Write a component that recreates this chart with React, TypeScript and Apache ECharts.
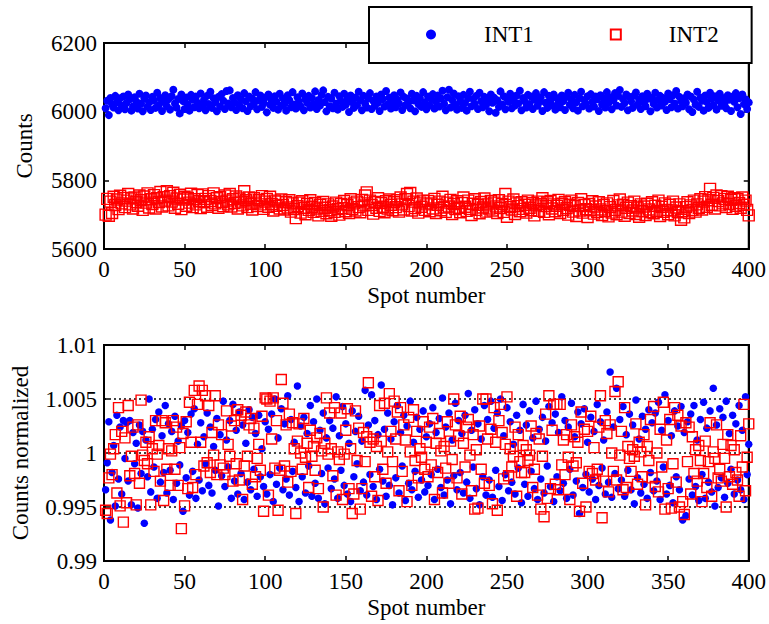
import React, { useEffect, useRef } from "react";
import * as echarts from "echarts";

// Top panel: raw counts per spot (spot number = index + 1)
const INT1 = [
  6010, 6032, 5990, 6040, 6021, 6012, 6046, 6028, 6004, 6039, 6018, 6044, 6007, 6025, 6050, 6036, 6003, 6015, 6042, 6030,
  6009, 6052, 6023, 6001, 6038, 6047, 6014, 6027, 6005, 6043, 6033, 6011, 6055, 6019, 6040, 6002, 6029, 6048, 6016, 6036,
  6006, 6045, 6064, 6024, 6012, 6037, 5995, 6050, 6031, 6008, 6041, 6020, 6003, 6049, 6035, 6013, 6044, 6026, 6010, 6053,
  6017, 6034, 6004, 6046, 6022, 6058, 6011, 6039, 6028, 6001, 6043, 6015, 6051, 6032, 6008, 6060, 6024, 6062, 6013, 6040,
  6027, 6005, 6048, 6019, 6036, 6010, 6054, 6030, 6002, 6044, 6016, 6038, 6023, 6057, 6007, 6033, 6047, 6014, 6025, 6041,
  5998, 6050, 6020, 6035, 6011, 6045, 6029, 6006, 6052, 6017, 6039, 6024, 6003, 6048, 6033, 6013, 6057, 6021, 6009, 6042,
  6030, 6015, 6053, 6004, 6037, 6026, 6046, 6012, 6040, 6022, 6059, 6008, 6034, 6018, 6049, 6062, 6028, 6001, 6043, 6016,
  6038, 6010, 6055, 6024, 6006, 6045, 6031, 6014, 6052, 6020, 6036, 5999, 6047, 6027, 6011, 6041, 6019, 6058, 6034, 6004,
  6046, 6023, 6012, 6039, 6054, 6008, 6032, 6017, 6044, 6026, 6002, 6050, 6037, 6015, 6060, 6021, 6041, 6009, 6030, 6048,
  6013, 6035, 6024, 6056, 6005, 6043, 6019, 6038, 6028, 6010, 6052, 6033, 6001, 6046, 6022, 6040, 6014, 6057, 6027, 6007,
  6044, 6018, 6036, 6051, 6009, 6029, 6047, 6015, 6039, 6061, 6023, 6004, 6042, 6064, 6012, 6034, 6053, 6020, 6006, 6045,
  6031, 6011, 6049, 6025, 6003, 6040, 6058, 6016, 6037, 6022, 6046, 6008, 6055, 6030, 6013, 6043, 6019, 6035, 6001, 6050,
  6026, 6041, 5997, 6033, 6014, 6059, 6021, 6045, 6007, 6038, 6029, 6052, 6010, 6036, 6018, 6047, 6024, 6061, 6004, 6040,
  6030, 6012, 6049, 6022, 6044, 6008, 6035, 6054, 6017, 6028, 6042, 6002, 6057, 6026, 6011, 6046, 6033, 6019, 6050, 6006,
  6039, 6024, 6013, 6047, 6031, 6005, 6043, 6055, 6020, 6036, 6010, 6049, 6027, 6003, 6040, 6058, 6016, 6034, 6023, 6045,
  6009, 6051, 6029, 6015, 6044, 6036, 6002, 6048, 6021, 6039, 6012, 6057, 6026, 6042, 6007, 6033, 6054, 6018, 6046, 6063,
  6014, 6037, 6025, 6050, 6004, 6043, 6030, 6011, 6047, 6056, 6020, 6035, 6008, 6045, 6027, 6016, 6052, 6038, 6001, 6041,
  6023, 6055, 6012, 6034, 6046, 6018, 6040, 6029, 6005, 6053, 6037, 6013, 6048, 6024, 6060, 6009, 6043, 6031, 6016, 6039,
  6026, 6050, 6007, 6044, 5999, 6035, 6021, 6058, 6014, 6041, 6032, 6003, 6047, 6028, 6011, 6055, 6038, 6019, 6045, 6006,
  6033, 6052, 6017, 6040, 6024, 6010, 6048, 6035, 6002, 6044, 6029, 6054, 6013, 6039, 5993, 6050, 6022, 6036, 6008, 6027,
];

const INT2 = [
  5700, 5746, 5697, 5738, 5705, 5752, 5728, 5744, 5716, 5755, 5733, 5749, 5722, 5741, 5760, 5730, 5747, 5718, 5750, 5736,
  5726, 5756, 5742, 5714, 5753, 5735, 5762, 5721, 5745, 5731, 5757, 5718, 5748, 5737, 5766, 5724, 5751, 5741, 5768, 5727,
  5754, 5738, 5764, 5720, 5747, 5732, 5758, 5716, 5744, 5752, 5726, 5749, 5735, 5761, 5722, 5745, 5730, 5757, 5739, 5719,
  5759, 5736, 5746, 5723, 5754, 5740, 5728, 5762, 5733, 5748, 5720, 5751, 5737, 5725, 5756, 5741, 5730, 5760, 5724, 5745,
  5734, 5753, 5718, 5747, 5738, 5727, 5768, 5742, 5722, 5750, 5732, 5715, 5748, 5735, 5725, 5742, 5730, 5754, 5717, 5738,
  5746, 5723, 5752, 5731, 5712, 5741, 5726, 5738, 5718, 5744, 5728, 5715, 5736, 5721, 5742, 5709, 5733, 5716, 5690, 5725,
  5735, 5706, 5739, 5720, 5701, 5731, 5714, 5742, 5723, 5708, 5734, 5718, 5698, 5729, 5711, 5737, 5720, 5704, 5730, 5713,
  5697, 5724, 5708, 5735, 5716, 5700, 5731, 5719, 5740, 5710, 5728, 5705, 5745, 5717, 5733, 5712, 5738, 5722, 5707, 5743,
  5727, 5756, 5765, 5714, 5741, 5728, 5703, 5737, 5720, 5748, 5711, 5734, 5723, 5707, 5739, 5718, 5744, 5729, 5713, 5736,
  5722, 5742, 5709, 5750, 5730, 5715, 5745, 5760, 5725, 5763, 5712, 5738, 5719, 5747, 5706, 5735, 5723, 5741, 5714, 5730,
  5740, 5710, 5733, 5718, 5746, 5705, 5729, 5738, 5713, 5752, 5721, 5708, 5735, 5724, 5743, 5702, 5731, 5716, 5739, 5720,
  5707, 5734, 5750, 5723, 5711, 5741, 5717, 5699, 5732, 5745, 5714, 5729, 5704, 5737, 5721, 5747, 5709, 5730, 5718, 5740,
  5712, 5735, 5724, 5705, 5742, 5719, 5731, 5708, 5760, 5694, 5738, 5722, 5715, 5744, 5702, 5733, 5725, 5710, 5736, 5717,
  5729, 5706, 5741, 5720, 5713, 5734, 5698, 5727, 5738, 5711, 5731, 5748, 5708, 5725, 5736, 5701, 5740, 5718, 5730, 5710,
  5726, 5743, 5705, 5732, 5714, 5737, 5719, 5700, 5729, 5741, 5709, 5725, 5696, 5734, 5712, 5745, 5706, 5728, 5716, 5693,
  5731, 5713, 5739, 5703, 5724, 5708, 5736, 5715, 5699, 5728, 5710, 5733, 5695, 5722, 5706, 5740, 5714, 5701, 5727, 5744,
  5709, 5729, 5697, 5720, 5735, 5705, 5725, 5712, 5738, 5702, 5721, 5694, 5730, 5710, 5724, 5699, 5732, 5715, 5707, 5736,
  5704, 5726, 5711, 5741, 5696, 5723, 5708, 5733, 5714, 5701, 5729, 5712, 5738, 5698, 5721, 5707, 5730, 5685, 5710, 5692,
  5722, 5736, 5705, 5727, 5714, 5741, 5709, 5730, 5720, 5745, 5715, 5738, 5751, 5723, 5742, 5775, 5729, 5749, 5718, 5756,
  5740, 5727, 5754, 5733, 5746, 5722, 5752, 5731, 5743, 5717, 5748, 5726, 5745, 5734, 5720, 5750, 5729, 5741, 5714, 5698,
];

// Bottom panel: normalized counts per spot
const NORM1 = [
  0.9966, 0.9991, 1.0029, 0.9938, 0.9982, 1.0007, 0.9951, 1.0035, 0.9976, 1.0024, 0.9962, 1.003, 0.9995, 1.0028, 0.9974, 1.003, 0.9952, 1.0019, 0.999, 1.0009,
  0.9949, 1.0026, 0.9981, 1.002, 0.9935, 1.0012, 0.9978, 1.005, 0.9964, 1.0022, 0.9987, 1.0031, 0.9958, 1.0038, 0.9973, 1.0016, 0.9982, 1.0044, 0.9963, 1.0027,
  0.9984, 1.002, 0.9957, 1.0034, 0.9972, 1.0011, 0.9989, 1.0025, 0.9946, 1.003, 0.9977, 1.0019, 0.9961, 1.0036, 0.9983, 1.0041, 0.9958, 1.0008, 0.9975, 1.0028,
  0.9965, 1.0015, 0.999, 1.0037, 0.997, 1.0024, 0.9963, 1.0006, 0.9984, 1.0032, 0.9951, 1.0017, 0.9979, 1.0048, 0.9969, 1.0012, 0.9987, 1.003, 0.9958, 1.0045,
  0.9974, 1.0021, 0.9962, 1.0038, 0.9981, 1.0026, 0.9957, 1.0009, 0.9973, 1.004, 0.9966, 1.0033, 0.9985, 1.0018, 0.996, 1.0035, 0.9978, 1.0004, 0.9969, 1.0029,
  0.9962, 1.0022, 0.998, 1.0036, 0.9955, 1.005, 0.9971, 1.0014, 0.9986, 1.0041, 0.9966, 1.0027, 0.9976, 1.0053, 0.9961, 1.0031, 0.9983, 1.001, 0.9968, 1.0062,
  0.9955, 1.0025, 0.9978, 1.0033, 0.9963, 1.0018, 0.9988, 1.0044, 0.996, 1.0029, 0.9972, 1.005, 0.9958, 1.0021, 0.9981, 1.0037, 0.9953, 1.0014, 0.9986, 1.003,
  0.9967, 1.0023, 0.9976, 1.0052, 0.9958, 1.0016, 0.9984, 1.0043, 0.997, 1.0027, 0.9962, 1.0009, 0.9955, 1.0039, 0.9978, 1.002, 0.999, 1.0034, 0.9965, 1.0011,
  0.9973, 1.0058, 0.9961, 1.0026, 0.998, 1.0054, 0.9969, 1.003, 0.9957, 1.0017, 0.9985, 1.0063, 0.9974, 1.0022, 0.996, 1.0037, 0.997, 1.0013, 0.9952, 1.0029,
  0.9977, 1.0044, 0.9963, 1.0019, 0.9988, 1.0035, 0.9956, 1.0025, 0.9972, 1.0048, 0.9966, 1.001, 0.9983, 1.0033, 0.9959, 1.0022, 0.9975, 1.0039, 0.9964, 1.0015,
  0.997, 1.0027, 0.998, 1.0042, 0.9957, 1.0019, 0.9985, 1.0032, 0.9968, 1.0051, 0.9961, 1.0024, 0.9975, 1.0037, 0.9953, 1.0012, 0.9979, 1.0046, 0.9966, 1.003,
  0.9982, 1.0018, 0.9963, 1.0035, 0.9973, 1.0055, 0.9958, 1.0021, 0.9987, 1.004, 0.9967, 1.0027, 0.9952, 1.0013, 0.9978, 1.0044, 0.9961, 1.0031, 0.9975, 1.0048,
  0.9959, 1.0023, 0.9984, 1.0037, 0.9969, 1.005, 0.9956, 1.0016, 0.998, 1.0042, 0.9965, 1.0029, 0.9973, 1.0008, 0.9962, 1.0035, 0.9986, 1.0021, 0.9954, 1.0045,
  0.9971, 1.0026, 0.996, 1.0039, 0.9983, 1.0014, 0.9967, 1.0048, 0.9957, 1.0022, 0.9976, 1.0033, 0.9963, 1.0011, 0.9988, 1.0043, 0.9969, 1.0028, 0.9955, 1.0036,
  0.9978, 1.0019, 0.9965, 1.0052, 0.9972, 1.003, 0.9958, 1.0024, 0.9985, 1.0046, 0.9961, 1.0015, 0.9974, 1.0038, 0.9944, 1.0027, 0.9968, 1.0041, 0.998, 1.001,
  0.9964, 1.0033, 0.9976, 1.002, 0.9957, 1.0045, 0.997, 1.0029, 0.9986, 1.0012, 0.9962, 1.0038, 0.9973, 1.0075, 0.9959, 1.0024, 0.9981, 1.006, 0.9967, 1.0031,
  0.9975, 1.0043, 0.996, 1.0017, 0.9984, 1.0036, 0.9966, 1.0026, 0.9953, 1.0049, 0.9977, 1.0013, 0.9963, 1.0034, 0.9971, 1.0022, 0.9958, 1.004, 0.9982, 1.0028,
  0.9965, 1.0037, 0.9974, 1.0047, 0.9957, 1.0021, 0.9987, 1.0054, 0.9962, 1.003, 0.997, 1.0016, 0.9954, 1.0039, 0.9978, 1.0025, 0.9966, 1.0043, 0.9938, 1.0019,
  0.9942, 1.0029, 0.9976, 1.0036, 0.9961, 1.0044, 0.9969, 1.0012, 0.9956, 1.0031, 0.998, 1.0047, 0.9958, 1.0023, 0.9973, 1.0039, 0.9964, 1.006, 0.9951, 1.0026,
  0.9968, 1.0041, 0.9977, 1.0033, 0.9959, 1.0048, 0.9972, 1.0018, 0.9985, 1.0035, 0.9962, 1.0027, 0.9975, 1.0044, 0.9966, 1.0021, 0.9957, 1.0052, 0.998, 1.0008,
];

const NORM2 = [
  0.9947, 0.9944, 0.9977, 0.9999, 0.998, 1.0004, 1.0017, 0.9963, 1.0042, 0.9951, 1.002, 0.9936, 1.0014, 0.9954, 1.0044, 0.9979, 0.9997, 1.0024, 0.9981, 0.9952,
  1.0026, 0.9972, 1.0049, 0.9998, 0.9993, 1.001, 0.999, 1.0015, 0.9952, 1.0004, 0.9983, 1.003, 0.9999, 1.0007, 0.9974, 1.003, 0.9956, 1.0028, 0.9985, 1.0004,
  0.997, 1.0002, 1.003, 0.9985, 1.0024, 0.997, 1.0005, 0.993, 1.0018, 0.9951, 1.0029, 0.9967, 1.0047, 1.001, 0.9968, 1.0058, 0.998, 1.0045, 1.0062, 1.001,
  1.0058, 0.9988, 1.0053, 0.9991, 1.0044, 0.9982, 1.0019, 0.9998, 1.0053, 0.998, 1.0026, 0.9989, 1.0017, 0.9986, 0.998, 1.0039, 1.0008, 0.9997, 1.0025, 0.9974,
  1.003, 0.999, 1.004, 0.9975, 1.0035, 0.9957, 0.9988, 1.0038, 0.9997, 1.0026, 1.0032, 0.9971, 1.0023, 0.9978, 0.9995, 1.0008, 0.9984, 1.0034, 0.9946, 1.0051,
  1.005, 0.9961, 1.0048, 1.0013, 1.0051, 0.9986, 1.003, 0.9947, 0.9984, 1.0068, 1.0046, 0.9988, 1.0026, 0.9973, 1.0036, 0.9983, 1.0028, 1.0004, 0.9944, 1.0011,
  1.0027, 1.0, 0.9985, 1.0032, 0.9996, 1.0009, 0.9968, 1.0021, 0.9997, 1.0006, 0.9984, 1.0014, 0.9967, 1.0018, 1.0002, 0.995, 1.0009, 1.0051, 0.9999, 1.0037,
  1.0004, 0.9979, 1.0042, 0.9961, 1.0001, 0.9994, 1.0037, 0.9957, 0.9999, 1.0021, 1.0041, 0.9967, 1.0004, 0.9944, 0.9962, 1.0039, 0.9993, 1.0023, 0.9948, 0.9967,
  1.0019, 0.9992, 1.0015, 1.0065, 1.001, 0.996, 1.0013, 0.9978, 1.0006, 0.9956, 1.0044, 1.0011, 0.9985, 1.0046, 0.9972, 1.0001, 1.0055, 1.002, 0.9992, 1.0048,
  1.0013, 1.0038, 0.9965, 1.0042, 0.9983, 1.0026, 1.0012, 0.9955, 1.0033, 1.0001, 0.997, 1.004, 0.9993, 1.002, 0.9977, 1.0004, 0.9996, 1.0029, 0.9985, 1.001,
  0.9978, 1.0024, 0.9989, 1.0032, 0.9957, 1.0009, 0.9982, 1.0018, 1.0002, 0.9963, 1.0006, 0.9986, 1.0029, 0.9972, 1.0011, 0.9994, 1.005, 1.0026, 0.9977, 1.0016,
  1.0034, 0.9962, 1.0009, 0.9987, 1.0024, 1.0031, 0.9998, 0.9965, 1.0017, 0.9948, 1.0003, 0.9949, 1.0025, 0.9985, 1.005, 0.9972, 1.005, 1.0013, 0.997, 1.0022,
  0.9953, 1.0042, 1.001, 0.9947, 1.003, 1.0045, 1.0019, 0.9976, 1.0008, 1.0052, 0.9979, 1.0004, 0.9987, 0.9997, 1.0024, 0.996, 1.0017, 0.9992, 0.9982, 1.0007,
  0.9982, 1.0003, 0.9993, 0.9998, 1.0025, 0.9968, 0.9985, 1.0018, 0.9961, 1.0013, 0.9948, 0.9997, 0.9941, 1.0036, 0.9958, 1.0053, 0.9967, 1.0021, 1.0045, 0.9971,
  1.0045, 0.9966, 1.0045, 0.9989, 1.0012, 0.998, 1.0017, 0.9996, 0.9957, 1.0026, 0.9988, 1.0015, 0.9991, 1.001, 0.9946, 1.0038, 0.9972, 1.0022, 0.995, 1.002,
  0.9983, 1.0034, 0.9981, 1.0005, 0.9975, 0.9985, 1.0024, 1.0053, 0.994, 0.9974, 1.003, 1.0018, 0.9964, 1.0026, 1.0, 0.9983, 1.0057, 0.9975, 1.0066, 0.9998,
  1.002, 0.9966, 1.0042, 0.9968, 1.0006, 0.9995, 0.9983, 1.0003, 0.9997, 1.0027, 0.9971, 1.001, 1.0001, 0.9978, 1.0017, 0.9952, 1.0006, 0.9993, 1.0031, 0.9977,
  1.0043, 0.9969, 1.0, 0.9964, 1.0022, 0.9987, 1.0047, 0.9948, 1.0012, 0.9967, 1.0031, 0.9949, 0.999, 1.0042, 0.9973, 1.0035, 0.995, 1.0025, 0.9955, 0.9943,
  1.0028, 0.9992, 1.0024, 0.9962, 1.0015, 0.9981, 1.0003, 0.9974, 1.0007, 0.9993, 0.9955, 0.9981, 1.0011, 0.9968, 0.9992, 1.0028, 0.996, 1.0001, 0.9995, 1.0026,
  0.9977, 0.9985, 0.9974, 1.0008, 0.9995, 0.995, 1.0017, 0.9978, 1.0007, 0.9971, 1.0003, 0.9982, 0.9975, 0.996, 1.0016, 0.9987, 1.0045, 0.9965, 0.9996, 1.0027,
];

const SERIES_NAMES = ["INT1", "INT2"];
const X_LABEL = "Spot number";
const Y_LABEL_TOP = "Counts";
const Y_LABEL_BOTTOM = "Counts normalized";

const FONT = "'Liberation Serif', 'Times New Roman', serif";
const FS = 23;
const BLUE = "#0000ff";
const RED = "#ff0000";

const toPoints = (arr: number[]) => arr.map((v, i) => [i + 1, v]);

export default function App() {
  const ref = useRef<HTMLDivElement>(null);

  useEffect(() => {
    document.body.style.margin = "0";
    const chart = echarts.init(ref.current!, null, { renderer: "svg" });

    const txt = { fontFamily: FONT, fontSize: FS, color: "#000" };
    const line = { color: "#000", width: 2 };
    const tick = { show: true, inside: true, length: 5, lineStyle: { color: "#000", width: 1.5 } };

    const xMain = (gridIndex: number) => ({
      type: "value",
      gridIndex,
      min: 0,
      max: 400,
      interval: 50,
      axisLine: { show: true, onZero: false, lineStyle: line },
      axisTick: tick,
      axisLabel: { ...txt, margin: 9, formatter: (v: number) => String(v) },
      splitLine: { show: false },
      name: X_LABEL,
      nameLocation: "middle",
      nameGap: 35,
      nameTextStyle: txt,
    });
    const xTop = (gridIndex: number) => ({
      type: "value",
      gridIndex,
      position: "top",
      min: 0,
      max: 400,
      interval: 50,
      axisLine: { show: true, onZero: false, lineStyle: line },
      axisTick: tick,
      axisLabel: { show: false },
      splitLine: { show: false },
    });
    const yRight = (gridIndex: number, min: number, max: number, interval: number) => ({
      type: "value",
      gridIndex,
      position: "right",
      min,
      max,
      interval,
      axisLine: { show: true, onZero: false, lineStyle: line },
      axisTick: tick,
      axisLabel: { show: false },
      splitLine: { show: false },
    });

    const option = {
      animation: false,
      backgroundColor: "#fff",
      grid: [
        { left: 104, top: 43, width: 645, height: 206, show: true, borderColor: "#000", borderWidth: 2, backgroundColor: "transparent" },
        { left: 104, top: 345, width: 645, height: 216, show: true, borderColor: "#000", borderWidth: 2, backgroundColor: "transparent" },
      ],
      legend: {
        data: SERIES_NAMES,
        left: 369,
        top: 7,
        orient: "horizontal",
        backgroundColor: "#fff",
        borderColor: "#000",
        borderWidth: 2,
        borderRadius: 0,
        padding: [16, 33, 17, 57],
        itemWidth: 10,
        itemHeight: 10,
        itemGap: 76,
        selectedMode: false,
        textStyle: { ...txt, padding: [0, 0, 0, 43] },
        z: 10,
      },
      xAxis: [xMain(0), xTop(0), xMain(1), xTop(1)],
      yAxis: [
        {
          type: "value",
          gridIndex: 0,
          min: 5600,
          max: 6200,
          interval: 200,
          axisLine: { show: true, onZero: false, lineStyle: line },
          axisTick: tick,
          axisLabel: { ...txt, margin: 7, formatter: (v: number) => String(v) },
          splitLine: { show: false },
          name: Y_LABEL_TOP,
          nameLocation: "middle",
          nameGap: 68,
          nameTextStyle: txt,
        },
        yRight(0, 5600, 6200, 200),
        {
          type: "value",
          gridIndex: 1,
          min: 0.99,
          max: 1.01,
          interval: 0.005,
          axisLine: { show: true, onZero: false, lineStyle: line },
          axisTick: tick,
          axisLabel: {
            ...txt,
            margin: 7,
            formatter: (v: number) => String(Number(v.toFixed(3))),
          },
          splitLine: { show: true, lineStyle: { color: "#000", width: 1.5, type: [2, 3] } },
          name: Y_LABEL_BOTTOM,
          nameLocation: "middle",
          nameGap: 72,
          nameTextStyle: txt,
        },
        yRight(1, 0.99, 1.01, 0.005),
      ],
      series: [
        {
          name: SERIES_NAMES[0],
          type: "scatter",
          xAxisIndex: 0,
          yAxisIndex: 0,
          symbol: "circle",
          symbolSize: 8,
          itemStyle: { color: BLUE, opacity: 1 },
          data: toPoints(INT1),
        },
        {
          name: SERIES_NAMES[1],
          type: "scatter",
          xAxisIndex: 0,
          yAxisIndex: 0,
          symbol: "rect",
          symbolSize: 11,
          itemStyle: { color: "rgba(0,0,0,0)", borderColor: RED, borderWidth: 1.4, opacity: 1 },
          data: toPoints(INT2),
        },
        {
          name: SERIES_NAMES[0],
          type: "scatter",
          xAxisIndex: 2,
          yAxisIndex: 2,
          symbol: "circle",
          symbolSize: 7.5,
          itemStyle: { color: BLUE, opacity: 1 },
          data: toPoints(NORM1),
        },
        {
          name: SERIES_NAMES[1],
          type: "scatter",
          xAxisIndex: 2,
          yAxisIndex: 2,
          symbol: "rect",
          symbolSize: 10,
          itemStyle: { color: "rgba(0,0,0,0)", borderColor: RED, borderWidth: 1.4, opacity: 1 },
          data: toPoints(NORM2),
        },
      ],
    };

    chart.setOption(option as any);
    return () => chart.dispose();
  }, []);

  return <div ref={ref} style={{ width: 769, height: 624 }} />;
}
